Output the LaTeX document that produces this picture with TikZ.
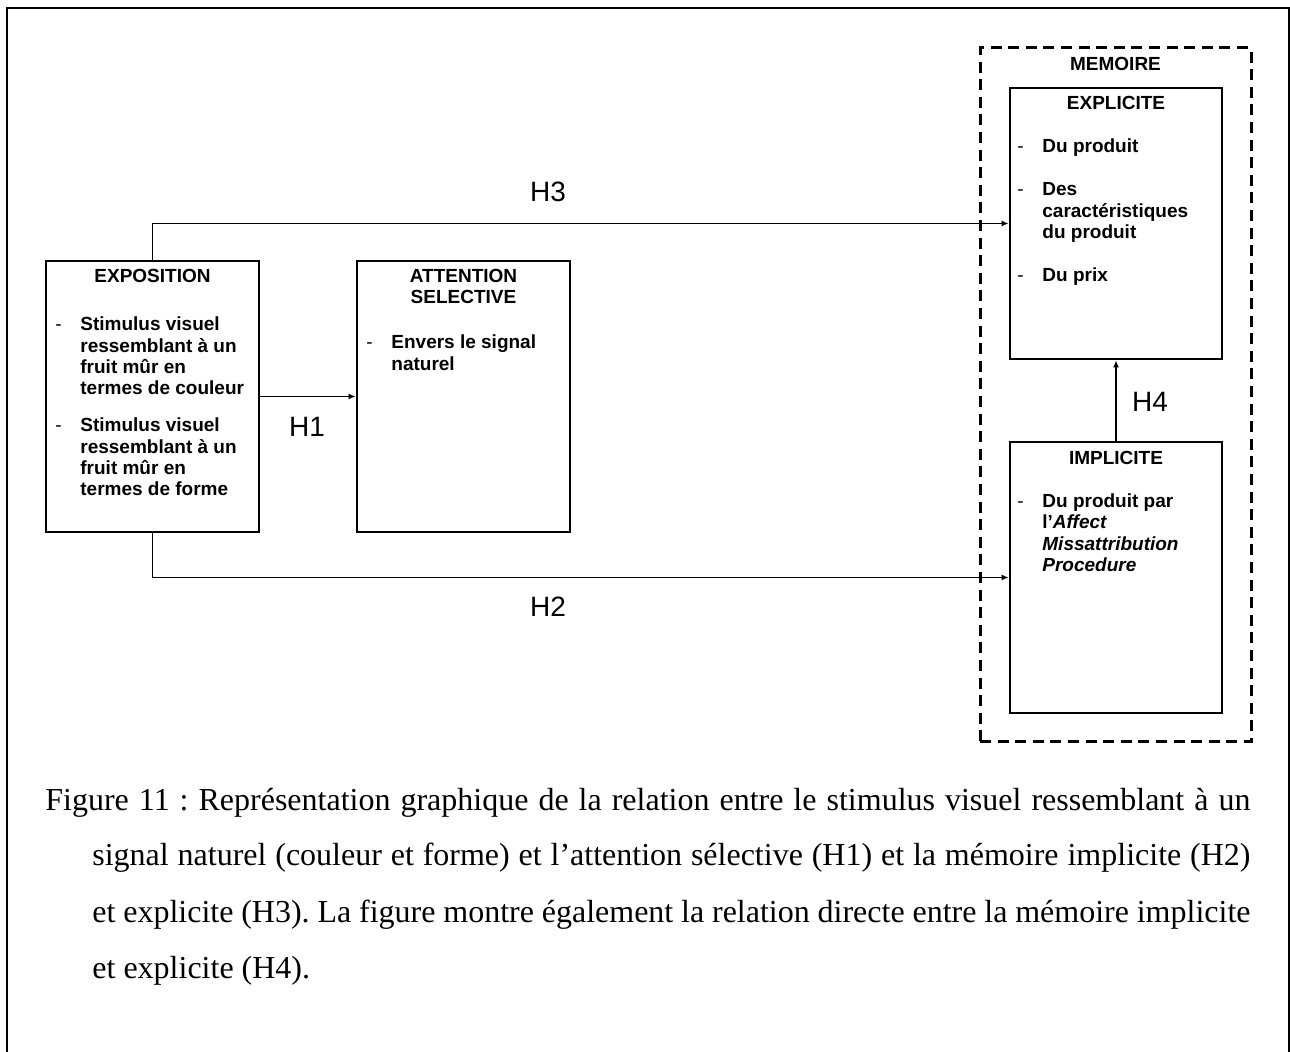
\documentclass[tikz,border=0pt]{standalone}
\usepackage{fontspec}
\setmainfont{Liberation Serif}
\newfontfamily\arialf{Liberation Sans}
\usetikzlibrary{arrows.meta}
\begin{document}
\frenchspacing
\begin{tikzpicture}[x=0.5pt,y=-0.5pt,
  box/.style={draw, line width=1.4pt, inner sep=0pt},
  conn/.style={line width=0.7pt, -{Latex[length=3.5pt,width=3pt]}},
  ttl/.style={font=\arialf\bfseries\fontsize{9.5}{10.65}\selectfont, inner sep=0pt, anchor=base},
  itm/.style={font=\arialf\bfseries\fontsize{9.5}{10.65}\selectfont, inner sep=0pt, anchor=base west},
  dsh/.style={font=\arialf\fontsize{9.5}{10.65}\selectfont, inner sep=0pt, anchor=base west},
  hlab/.style={font=\arialf\fontsize{14}{16}\selectfont, inner sep=0pt, anchor=base}
]
\useasboundingbox (0,0) rectangle (1290,1052);
% outer frame
\draw[line width=1pt] (7,1052) -- (7,8) -- (1289,8) -- (1289,1052);

% boxes
\node[box, minimum width=106.5pt, minimum height=135.5pt] (expo) at (152.5,396.5) {};
\node[box, minimum width=106.5pt, minimum height=135.5pt] (att) at (463.5,396.5) {};
\node[draw, line width=1.5pt, dash pattern=on 5.5pt off 3.3pt, minimum width=135.5pt, minimum height=347pt, inner sep=0pt] (mem) at (1115.5,395) {};
\node[box, minimum width=106pt, minimum height=135.5pt] (expl) at (1116,223.5) {};
\node[box, minimum width=106pt, minimum height=135.5pt] (impl) at (1116,577.5) {};

% EXPOSITION
\node[ttl] (t1) at (152.5,283) {EXPOSITION};
\node[dsh] (d1) at (55,331) {-};
\node[itm] (e1) at (80,331) {\parbox[t]{170pt}{Stimulus visuel\\ressemblant à un\\fruit mûr en\\termes de couleur}};
\node[dsh] (d2) at (55,432) {-};
\node[itm] (e2) at (80,432) {\parbox[t]{170pt}{Stimulus visuel\\ressemblant à un\\fruit mûr en\\termes de forme}};

% ATTENTION
\node[ttl] (t2) at (463.5,283) {ATTENTION};
\node[ttl] (t2b) at (463.5,304) {SELECTIVE};
\node[dsh] (d3) at (366,349) {-};
\node[itm] (a1) at (391,349) {\parbox[t]{170pt}{Envers le signal\\naturel}};

% MEMOIRE
\node[ttl] (t3) at (1115.5,71) {MEMOIRE};
\node[ttl] (t4) at (1116,110) {EXPLICITE};
\node[dsh] (d4) at (1017,153) {-};
\node[itm] (x1) at (1042,153) {Du produit};
\node[dsh] (d5) at (1017,196) {-};
\node[itm] (x2) at (1042,196) {\parbox[t]{170pt}{Des\\caractéristiques\\du produit}};
\node[dsh] (d6) at (1017,281.5) {-};
\node[itm] (x3) at (1042,281.5) {Du prix};

\node[ttl] (t5) at (1116,465) {IMPLICITE};
\node[dsh] (d7) at (1017,507.5) {-};
\node[itm] (i1) at (1042,507.5) {\parbox[t]{170pt}{Du produit par\\l’\textit{Affect}\\\textit{Missattribution}\\\textit{Procedure}}};

% connectors
\draw[conn] (expo.east) -- (att.west);
\draw[conn] (expo.north) |- (expl.west);
\draw[conn] (expo.south) |- (impl.west);
\draw[conn] (impl.north) -- (expl.south);

\node[hlab] (h1) at (307,437) {H1};
\node[hlab] (h2) at (548,617) {H2};
\node[hlab] (h3) at (548,202) {H3};
\node[hlab] (h4) at (1150,412) {H4};

% caption
\node[inner sep=0pt, anchor=base west] (cap) at (45,810) {\parbox[t]{602.5pt}{\frenchspacing\fontsize{16}{28}\selectfont\hangindent=23.5pt\hangafter=1
Figure 11 : Représentation graphique de la relation entre le stimulus visuel ressemblant à un\linebreak
signal naturel (couleur et forme) et l’attention sélective (H1) et la mémoire implicite (H2)\linebreak
et explicite (H3). La figure montre également la relation directe entre la mémoire implicite\linebreak
et explicite (H4).}};
\end{tikzpicture}
\end{document}
